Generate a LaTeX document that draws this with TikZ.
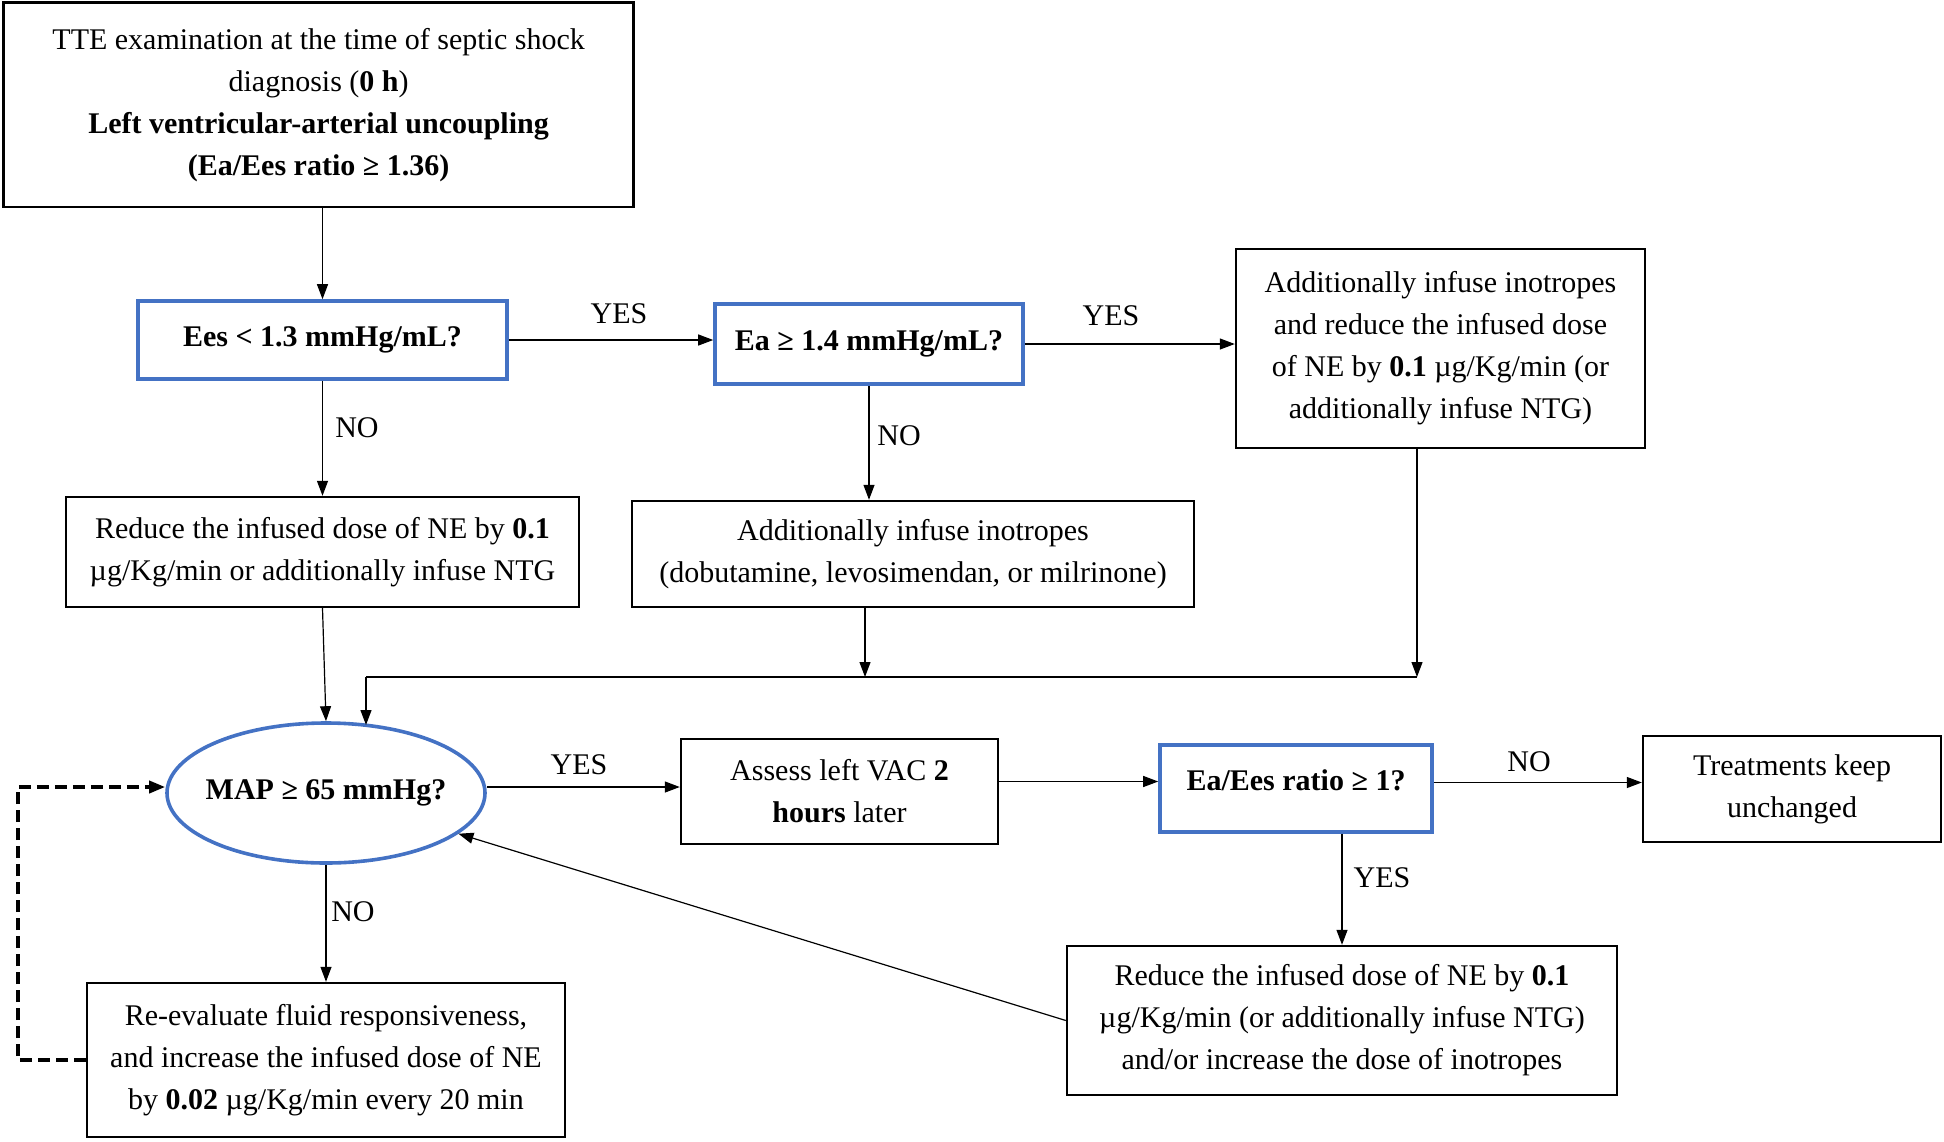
\documentclass[tikz,border=0pt]{standalone}
\usepackage{fontspec}
\setmainfont{Liberation Serif}
\usetikzlibrary{arrows.meta,calc,shapes.geometric}
\definecolor{qblue}{RGB}{68,114,196}
\begin{document}
\begin{tikzpicture}[x=0.5pt,y=-0.5pt,
  every node/.style={align=center, inner sep=0pt, font=\fontsize{15}{21}\selectfont},
  bbox/.style={draw=black, line width=1.2pt, rectangle},
  qbox/.style={draw=qblue, line width=1.8pt, rectangle},
  arr/.style={-{Triangle[length=7.5pt,width=5.5pt]}, line width=0.6pt},
  darr/.style={-{Triangle[length=8pt,width=6pt]}, line width=1.8pt, dash pattern=on 6pt off 3pt},
  lbl/.style={}]
\useasboundingbox (0,0) rectangle (1944,1141);
% nodes
\node[bbox, minimum width=315pt, minimum height=102.25pt] (top) at (318.6,104.8)
  {TTE examination at the time of septic shock\\ diagnosis (\textbf{0 h})\\ \textbf{Left ventricular-arterial uncoupling}\\ \textbf{(Ea/Ees ratio ≥ 1.36)}};
\node[qbox, minimum width=184.5pt, minimum height=39pt] (ees) at (322.5,340) {\textbf{Ees < 1.3 mmHg/mL?}};
\node[qbox, minimum width=154pt, minimum height=40pt] (ea) at (869,344) {\textbf{Ea ≥ 1.4 mmHg/mL?}};
\node[bbox, minimum width=204.5pt, minimum height=99.5pt] (tr) at (1440.5,348.5)
  {Additionally infuse inotropes\\ and reduce the infused dose\\ of NE by \textbf{0.1} µg/Kg/min (or\\ additionally infuse NTG)};
\node[bbox, minimum width=256.5pt, minimum height=55pt] (ne1) at (322.5,552)
  {Reduce the infused dose of NE by \textbf{0.1}\\ µg/Kg/min or additionally infuse NTG};
\node[bbox, minimum width=281pt, minimum height=53pt] (mid) at (913,554)
  {Additionally infuse inotropes\\ (dobutamine, levosimendan, or milrinone)};
\node[ellipse, draw=qblue, line width=1.8pt, minimum width=159pt, minimum height=70pt] (map) at (326,793) {};
\node (maptxt) at (map.center) {\textbf{MAP ≥ 65 mmHg?}};
\node[bbox, minimum width=158.5pt, minimum height=52.5pt] (assess) at (839.5,791.5)
  {Assess left VAC \textbf{2}\\ \textbf{hours} later};
\node[qbox, minimum width=136pt, minimum height=43.5pt] (ratio) at (1296,788.5) {};
\node (ratiotxt) at (1296,780) {\textbf{Ea/Ees ratio ≥ 1?}};
\node[bbox, minimum width=149pt, minimum height=53pt] (treat) at (1792,789)
  {Treatments keep\\ unchanged};
\node[bbox, minimum width=275pt, minimum height=74.5pt] (br) at (1342,1020.5)
  {Reduce the infused dose of NE by \textbf{0.1}\\ µg/Kg/min (or additionally infuse NTG)\\ and/or increase the dose of inotropes};
\node[bbox, minimum width=239pt, minimum height=77pt] (bl) at (326,1060)
  {Re-evaluate fluid responsiveness,\\ and increase the infused dose of NE\\ by \textbf{0.02} µg/Kg/min every 20 min};
% labels
\node[lbl] (l1) at (619,314) {YES};
\node[lbl] (l2) at (1111,316) {YES};
\node[lbl] (l3) at (357,428) {NO};
\node[lbl] (l4) at (899,436) {NO};
\node[lbl] (l5) at (579,765) {YES};
\node[lbl] (l6) at (1529,762) {NO};
\node[lbl] (l7) at (1382,878) {YES};
\node[lbl] (l8) at (353,912) {NO};
% junction coordinates
\coordinate (j1) at (1417,677);
\coordinate (j2) at (865,677);
\coordinate (j3) at (366,677);
\coordinate (j4) at (366,725);
% connectors
\draw[arr] (top.south -| ees.north) -- (ees.north);
\draw[arr] (ees.east) -- (ees.east -| ea.west);
\draw[arr] (ea.east) -- (ea.east -| tr.west);
\draw[arr] (ees.south) -- (ne1.north);
\draw[arr] (ea.south) -- (ea.south |- mid.north);
\draw[arr] (ne1.south) -- (map.north);
\draw[arr] (tr.south -| j1) -- (j1);
\draw[arr] (mid.south -| j2) -- (j2);
\draw[line width=0.6pt] (j1) -- (j3);
\draw[arr] (j3) -- (j4);
\draw[arr] ([yshift=3pt]map.east) -- ([yshift=3pt]map.east -| assess.west);
\draw[arr] ([yshift=3.5pt]ratio.west -| assess.east) -- ([yshift=3.5pt]ratio.west);
\draw[arr] ([yshift=3pt]ratio.east) -- ([yshift=3pt]ratio.east -| treat.west);
\draw[arr] (ratio.south -| br.north) -- (br.north);
\draw[arr] (br.west) -- (map);
\draw[arr] (map.south) -- (bl.north);
\draw[darr] (bl.west) -- ++(-68,0) |- ([yshift=3pt]map.west);
\end{tikzpicture}
\end{document}
